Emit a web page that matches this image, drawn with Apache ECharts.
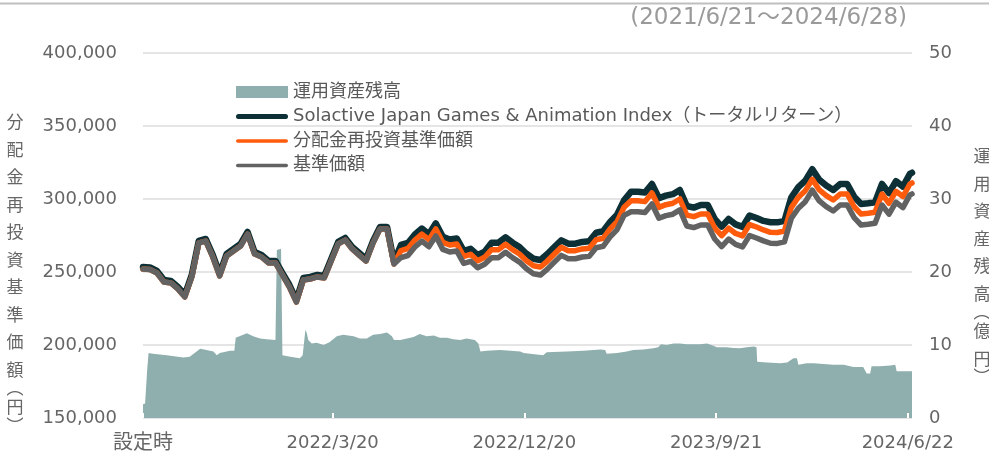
<!DOCTYPE html>
<html>
<head>
<meta charset="utf-8">
<script src="https://cdn.jsdelivr.net/npm/echarts@6/dist/echarts.min.js"></script>
<style>
html, body { margin: 0; padding: 0; background: #fff; }
#chart { width: 989px; height: 459px; }
</style>
</head>
<body>
<div id="chart"></div>
<script>
var FONT = "'DejaVu Sans', 'Noto Sans CJK JP', sans-serif";

// x axis labels (days since 2021/6/21)
var labelDays = [0, 272, 547, 822, 1097];
var xLabels = ['設定時', '2022/3/20', '2022/12/20', '2023/9/21', '2024/6/22'];

// sample days for the price lines: every 10 days, last one is 2024/6/28
var lineDays = [];
for (var i = 0; i <= 110; i++) lineDays.push(i * 10);
lineDays.push(1103);

// Solactive Japan Games & Animation Index (total return)
var indexTR = [
  253400, 253100, 250700, 244500, 243900, 239800, 234300, 248000, 271300, 272600,
  261700, 248700, 262400, 265800, 269200, 277400, 263700, 261700, 257600, 257600,
  249300, 241100, 230800, 245900, 246600, 248000, 247300, 258900, 270600, 273300,
  267200, 263000, 258900, 271300, 280900, 280900, 256900, 268500, 269900, 275700,
  279800, 275900, 283300, 274100, 272300, 273000, 264500, 265900, 261500, 263900,
  270100, 270100, 273800, 270100, 267100, 262500, 259100, 258200, 262300, 267100,
  271700, 269400, 269400, 270600, 271000, 276900, 277900, 284300, 289300, 299100,
  305000, 305000, 304400, 310300, 300500, 302300, 303300, 306200, 295200, 294100,
  295900, 295900, 286300, 281100, 286300, 282600, 280900, 288700, 287000, 285000,
  284100, 284000, 285000, 301200, 308100, 312600, 320400, 313100, 309200, 306200,
  310300, 310300, 301600, 296600, 297100, 297800, 310300, 304000, 312200, 308500,
  317200, 318000
];

// 分配金再投資基準価額
var navReinv = [
  252000, 251700, 249300, 243100, 242500, 238400, 232900, 246600, 269900, 271200,
  260300, 247300, 261000, 264400, 267800, 276000, 262300, 260300, 256200, 256200,
  247900, 239700, 229400, 244500, 245200, 246600, 245900, 257500, 269200, 271900,
  265800, 261600, 257500, 269900, 279500, 279500, 255500, 264700, 266100, 271900,
  276000, 272100, 279500, 270300, 268500, 269200, 260700, 262100, 257700, 260100,
  265300, 265300, 269000, 265300, 262300, 257700, 254300, 253400, 257500, 262300,
  266900, 264600, 264600, 265800, 266200, 272100, 273100, 279500, 284500, 294300,
  298800, 298800, 298200, 304100, 294300, 296100, 297100, 300000, 289000, 287900,
  289700, 289700, 280100, 274900, 280100, 276400, 274700, 282500, 280800, 278800,
  277200, 277100, 278100, 294300, 301200, 305700, 313500, 306200, 302300, 299300,
  303400, 303400, 294700, 289700, 290200, 290900, 303400, 297100, 305300, 301600,
  310300, 311000
];

// 基準価額
var nav = [
  252000, 251700, 249300, 243100, 242500, 238400, 232900, 246600, 269900, 271200,
  260300, 247300, 261000, 264400, 267800, 276000, 262300, 260300, 256200, 256200,
  247900, 239700, 229400, 244500, 245200, 246600, 245900, 257500, 269200, 271900,
  265800, 261600, 257500, 269900, 279500, 279500, 255500, 259900, 261300, 267100,
  271200, 267300, 274700, 265500, 263700, 264400, 255900, 257300, 252900, 255300,
  259800, 259800, 263500, 259800, 256800, 252200, 248800, 247900, 252000, 256800,
  261400, 259100, 259100, 260300, 260700, 266600, 267600, 274000, 279000, 288800,
  291300, 291300, 290700, 296600, 286800, 288600, 289600, 292500, 281500, 280400,
  282200, 282200, 272600, 267400, 272600, 268900, 267200, 275000, 273300, 271300,
  269700, 269600, 270600, 286800, 293700, 298200, 306000, 298700, 294800, 291800,
  295900, 295900, 287200, 282200, 282700, 283400, 295900, 289600, 297800, 294100,
  302800, 303500
];

// 運用資産残高 (億円), read at the days where it changes
var aumDays = [
  0, 3, 6, 8, 14, 34, 58, 67, 82, 91,
  101, 106, 110, 125, 131, 133, 149, 158, 168, 177,
  190, 192, 198, 200, 211, 225, 229, 231, 233, 235,
  237, 242, 249, 259, 268, 278, 287, 302, 311, 321,
  330, 340, 350, 357, 360, 369, 388, 397, 407, 417,
  426, 436, 445, 455, 464, 476, 481, 484, 493, 512,
  527, 541, 546, 574, 579, 608, 632, 656, 663, 665,
  680, 694, 703, 718, 732, 739, 743, 751, 761, 770,
  780, 799, 809, 818, 823, 837, 847, 856, 866, 876,
  880, 881, 895, 914, 924, 933, 938, 940, 952, 962,
  976, 990, 1005, 1019, 1033, 1038, 1043, 1045, 1057, 1072,
  1079, 1081, 1103
];
var aum = [
  1.9, 2.0, 6.6, 8.9, 8.8, 8.6, 8.3, 8.4, 9.5, 9.3,
  9.1, 8.6, 8.9, 9.2, 9.2, 11.0, 11.6, 11.2, 10.9, 10.8,
  10.7, 23.0, 23.2, 8.6, 8.4, 8.2, 8.6, 8.7, 12.1, 11.6,
  10.7, 10.2, 10.3, 10.0, 10.4, 11.2, 11.4, 11.2, 10.9, 10.9,
  11.4, 11.5, 11.7, 11.2, 10.7, 10.7, 11.1, 11.5, 11.2, 11.3,
  11.0, 11.0, 10.8, 10.7, 10.9, 10.7, 10.2, 9.1, 9.2, 9.3,
  9.2, 9.1, 8.9, 8.6, 9.0, 9.1, 9.2, 9.4, 9.3, 8.8,
  8.9, 9.1, 9.3, 9.4, 9.55, 9.7, 10.1, 10.0, 10.2, 10.2,
  10.1, 10.1, 10.2, 9.9, 9.7, 9.7, 9.6, 9.55, 9.7, 9.8,
  9.7, 7.7, 7.6, 7.5, 7.6, 8.2, 8.2, 7.3, 7.5, 7.5,
  7.4, 7.3, 7.3, 7.0, 7.0, 6.1, 6.1, 7.1, 7.1, 7.2,
  7.3, 6.4, 6.4
];

var names = ['運用資産残高', 'Solactive Japan Games & Animation Index（トータルリターン）', '分配金再投資基準価額', '基準価額'];
var colors = ['#8faeae', '#0c3036', '#fe5b0c', '#626262'];

function pairs(days, vals) {
  return days.map(function (d, k) { return [d, vals[k]]; });
}

var linePathThick = 'path://M2.5,0H49.5A2.5,2.5,0,0,1,49.5,5H2.5A2.5,2.5,0,0,1,2.5,0Z';
var linePathThin = 'path://M1.75,0H50.25A1.75,1.75,0,0,1,50.25,3.5H1.75A1.75,1.75,0,0,1,1.75,0Z';

var chart = echarts.init(document.getElementById('chart'));
chart.setOption({
  animation: false,
  backgroundColor: '#fff',
  grid: { left: 143, right: 77, top: 53, bottom: 41 },
  legend: {
    orient: 'vertical',
    left: 236,
    top: 82,
    padding: 0,
    itemWidth: 52,
    itemHeight: 12,
    itemGap: 4.5,
    selectedMode: false,
    textStyle: { fontFamily: FONT, fontSize: 18, color: '#595959', lineHeight: 20 },
    data: [
      { name: names[0], icon: 'rect', itemStyle: { color: colors[0], borderWidth: 0 } },
      { name: names[1], icon: linePathThick, itemStyle: { color: colors[1], borderWidth: 0 } },
      { name: names[2], icon: linePathThin, itemStyle: { color: colors[2], borderWidth: 0 } },
      { name: names[3], icon: linePathThin, itemStyle: { color: colors[3], borderWidth: 0 } }
    ]
  },
  xAxis: {
    type: 'value',
    min: 0,
    max: 1103,
    z: 10,
    axisLine: { show: false },
    splitLine: { show: false },
    axisTick: {
      show: true, inside: true, length: 5,
      customValues: labelDays,
      lineStyle: { color: '#fff', width: 2 }
    },
    axisLabel: {
      customValues: labelDays,
      margin: 16,
      color: '#666',
      fontFamily: FONT,
      fontSize: 18,
      formatter: function (v) {
        var k = labelDays.indexOf(v);
        if (k === 0) return '{a|' + xLabels[0] + '}';
        return k > 0 ? xLabels[k] : '';
      },
      rich: { a: { fontFamily: FONT, fontSize: 20, color: '#666' } }
    }
  },
  yAxis: [
    {
      type: 'value',
      min: 150000,
      max: 400000,
      interval: 50000,
      axisLine: { show: false },
      axisTick: { show: false },
      splitLine: { lineStyle: { color: '#dcdcdc', width: 1.5 } },
      axisLabel: {
        margin: 26, color: '#666', fontFamily: FONT, fontSize: 18,
        formatter: function (v) { return v.toLocaleString('en-US'); }
      }
    },
    {
      type: 'value',
      min: 0,
      max: 50,
      interval: 10,
      axisLine: { show: false },
      axisTick: { show: false },
      splitLine: { show: false },
      axisLabel: { margin: 17, color: '#666', fontFamily: FONT, fontSize: 18 }
    }
  ],
  series: [
    {
      name: names[0], type: 'line', yAxisIndex: 1, z: 1,
      data: pairs(aumDays, aum),
      symbol: 'none',
      color: colors[0],
      lineStyle: { width: 0 },
      areaStyle: { color: colors[0], opacity: 1 }
    },
    {
      name: names[1], type: 'line', z: 2,
      data: pairs(lineDays, indexTR),
      symbol: 'none',
      color: colors[1],
      lineStyle: { width: 6.5, color: colors[1], join: 'round', cap: 'round' }
    },
    {
      name: names[2], type: 'line', z: 3,
      data: pairs(lineDays, navReinv),
      symbol: 'none',
      color: colors[2],
      lineStyle: { width: 5.5, color: colors[2], join: 'round', cap: 'round' }
    },
    {
      name: names[3], type: 'line', z: 4,
      data: pairs(lineDays, nav),
      symbol: 'none',
      color: colors[3],
      lineStyle: { width: 5.5, color: colors[3], join: 'round', cap: 'round' }
    }
  ],
  graphic: [
    { type: 'rect', left: 0, top: 2.5, shape: { width: 989, height: 2 }, style: { fill: '#bfbfbf' } },
    {
      type: 'text', x: 907, y: 18,
      style: { text: '(2021/6/21～2024/6/28)', fontFamily: FONT, fontSize: 23, fill: '#9a9a9a', align: 'right', verticalAlign: 'middle' }
    },
    {
      type: 'text', x: 15, y: 110,
      style: {
        text: '分\n配\n金\n再\n投\n資\n基\n準\n価\n額\n{p|︵}\n円\n{p|︶}',
        fontFamily: FONT, fontSize: 17, lineHeight: 27.5, fill: '#666',
        align: 'center', verticalAlign: 'top',
        rich: { p: { fontFamily: FONT, fontSize: 17, lineHeight: 10, fill: '#666' } }
      }
    },
    {
      type: 'text', x: 982, y: 144,
      style: {
        text: '運\n用\n資\n産\n残\n高\n{p|︵}\n億\n円\n{p|︶}',
        fontFamily: FONT, fontSize: 17, lineHeight: 27.5, fill: '#666',
        align: 'center', verticalAlign: 'top',
        rich: { p: { fontFamily: FONT, fontSize: 17, lineHeight: 10, fill: '#666' } }
      }
    }
  ]
});
</script>
</body>
</html>
